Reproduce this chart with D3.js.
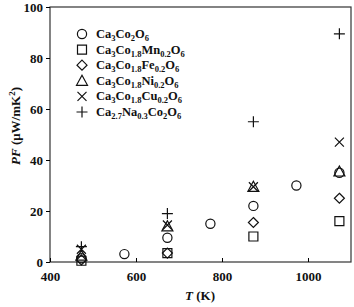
<!DOCTYPE html>
<html>
<head>
<meta charset="utf-8">
<script src="https://cdn.jsdelivr.net/npm/d3@7"></script>
<style>
  body { margin: 0; background: #fff; }
  svg text { font-family: "Liberation Serif", "Times New Roman", serif; font-weight: bold; }
</style>
</head>
<body>
<div id="chart"></div>
<script>
// data
const temps = [473, 573, 673, 773, 873, 973, 1073];
const pfCo = [1.5, 3.1, 9.5, 15, 22, 30, 35];
const pfMn = [0.5, null, 3.5, null, 10, null, 16];
const pfFe = [0.8, null, 3.5, null, 15.5, null, 25];
const pfNi = [2.5, null, 14, null, 29.5, null, 35.5];
const pfCu = [5, null, 14.5, null, 29.5, null, 47];
const pfNa = [6, null, 19, null, 55, null, 89.5];
const xTicks = [400, 600, 800, 1000];
const yTicks = [0, 20, 40, 60, 80, 100];

// legend labels as [text, isSubscript] pieces
const seriesList = [
  {vals: pfCo, shape: "circle", label: [["Ca",0],["3",1],["Co",0],["2",1],["O",0],["6",1]]},
  {vals: pfMn, shape: "square", label: [["Ca",0],["3",1],["Co",0],["1.8",1],["Mn",0],["0.2",1],["O",0],["6",1]]},
  {vals: pfFe, shape: "diamond", label: [["Ca",0],["3",1],["Co",0],["1.8",1],["Fe",0],["0.2",1],["O",0],["6",1]]},
  {vals: pfNi, shape: "triangle", label: [["Ca",0],["3",1],["Co",0],["1.8",1],["Ni",0],["0.2",1],["O",0],["6",1]]},
  {vals: pfCu, shape: "cross", label: [["Ca",0],["3",1],["Co",0],["1.8",1],["Cu",0],["0.2",1],["O",0],["6",1]]},
  {vals: pfNa, shape: "plus", label: [["Ca",0],["2.7",1],["Na",0],["0.3",1],["Co",0],["2",1],["O",0],["6",1]]}
];

const W = 354, H = 307;
const margin = {top: 7, right: 3, bottom: 45, left: 50};

const svg = d3.select("#chart").append("svg")
    .attr("width", W).attr("height", H);

const x = d3.scaleLinear().domain([400, 1100]).range([margin.left, W - margin.right]);
const y = d3.scaleLinear().domain([0, 100]).range([H - margin.bottom, margin.top]);

function shapePath(shape) {
  switch (shape) {
    case "circle": return "M4.6,0A4.6,4.6 0 1,1 -4.6,0A4.6,4.6 0 1,1 4.6,0Z";
    case "square": return "M-4.5,-4.5H4.5V4.5H-4.5Z";
    case "diamond": return "M0,-5L5,0L0,5L-5,0Z";
    case "triangle": return "M0,-5.5L5.5,4.5H-5.5Z";
    case "cross": return "M-4.5,-4.5L4.5,4.5M4.5,-4.5L-4.5,4.5";
    case "plus": return "M-5.5,0H5.5M0,-5.5V5.5";
  }
}

// frame
svg.append("rect")
    .attr("x", x(400)).attr("y", y(100))
    .attr("width", x(1100) - x(400)).attr("height", y(0) - y(100))
    .attr("fill", "none").attr("stroke", "#333").attr("stroke-width", 1.2);

// y axis, ticks outward
const yAxis = svg.append("g")
    .attr("transform", `translate(${x(400)},0)`)
    .call(d3.axisLeft(y).tickValues(yTicks).tickSize(4).tickPadding(3));
yAxis.select(".domain").remove();
yAxis.selectAll("text").style("font-size", "13px").attr("fill", "#111");

// x axis, ticks inward
const xAxis = svg.append("g")
    .attr("transform", `translate(0,${y(0)})`)
    .call(d3.axisBottom(x).tickValues(xTicks).tickFormat(d3.format("d")).tickSize(-4).tickPadding(10));
xAxis.select(".domain").remove();
xAxis.selectAll("text").style("font-size", "13px").attr("fill", "#111");

// points
seriesList.forEach(s => {
  const pts = temps.map((t, i) => ({t: t, v: s.vals[i]})).filter(d => d.v !== null);
  svg.append("g").selectAll("path")
    .data(pts)
    .join("path")
      .attr("transform", d => `translate(${x(d.t)},${y(d.v)})`)
      .attr("d", shapePath(s.shape))
      .attr("fill", "none")
      .attr("stroke", "#111")
      .attr("stroke-width", 1.2);
});

// legend
const legend = svg.append("g");
seriesList.forEach((s, i) => {
  const ly = 34 + i * 15.6;
  legend.append("path")
    .attr("transform", `translate(82,${ly})`)
    .attr("d", shapePath(s.shape))
    .attr("fill", "none").attr("stroke", "#111").attr("stroke-width", 1.2);
  const txt = legend.append("text")
    .attr("x", 96).attr("y", ly + 4)
    .style("font-size", "12.5px").attr("fill", "#111");
  let shift = 0;
  s.label.forEach(p => {
    const target = p[1] ? 3 : 0;
    txt.append("tspan")
      .attr("dy", target - shift)
      .style("font-size", p[1] ? "8.5px" : "12.5px")
      .text(p[0]);
    shift = target;
  });
});

// axis titles
const yt = svg.append("text")
    .attr("transform", "translate(20,126) rotate(-90)")
    .attr("text-anchor", "middle")
    .style("font-size", "13px").attr("fill", "#111");
yt.append("tspan").style("font-style", "italic").text("PF");
yt.append("tspan").text(" (\u03bcW/mK");
yt.append("tspan").attr("dy", -5).style("font-size", "9px").text("2");
yt.append("tspan").attr("dy", 5).text(")");

const xt = svg.append("text")
    .attr("x", 200).attr("y", 300)
    .attr("text-anchor", "middle")
    .style("font-size", "13px").attr("fill", "#111");
xt.append("tspan").style("font-style", "italic").text("T");
xt.append("tspan").text(" (K)");
</script>
</body>
</html>
